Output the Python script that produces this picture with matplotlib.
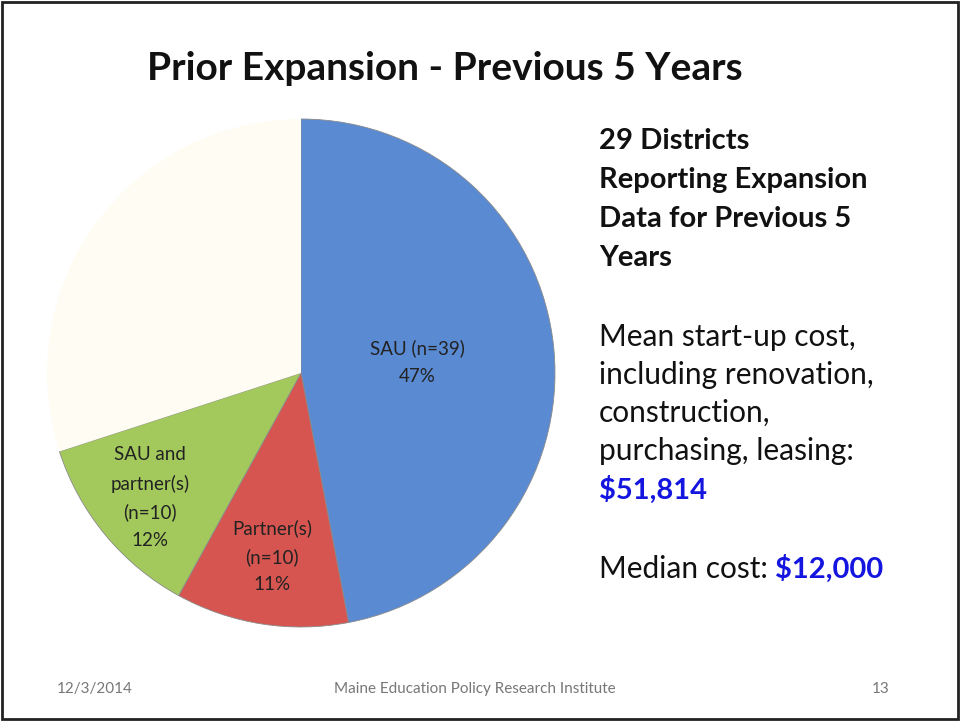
import matplotlib.pyplot as plt
import numpy as np

# slice data (the remaining share has no label on the slide)
categories = ['SAU (n=39)', 'Partner(s)\n(n=10)', 'SAU and\npartner(s)\n(n=10)', '']
shares = [47, 11, 12, 30]
colors = ['#5a8ad2', '#d65550', '#a3c95c', '#fffcf4']
label_dist = [0.46, 0.73, 0.77, 0]

plt.rcParams['font.family'] = ['Lato', 'DejaVu Sans']

fig = plt.figure(figsize=(9.6, 7.21), dpi=100)
fig.patch.set_facecolor('white')

# slide border
fig.add_artist(plt.Rectangle((0.002, 0.003), 0.996, 0.994, transform=fig.transFigure,
                             fill=False, edgecolor='#222222', linewidth=2))

ax = fig.add_axes([47 / 960, (721 - 627) / 721, 508 / 960, 508 / 721])
wedges, _ = ax.pie(shares, colors=colors, startangle=90, counterclock=False,
                   wedgeprops=dict(edgecolor='#8a8a8a', linewidth=0.6))
wedges[3].set_edgecolor('none')
ax.set_xlim(-1, 1)
ax.set_ylim(-1, 1)
ax.set_aspect('equal')
ax.axis('off')

for w, lab, pct, d in zip(wedges, categories, shares, label_dist):
    if not lab:
        continue
    ang = np.deg2rad((w.theta1 + w.theta2) / 2)
    ax.text(d * np.cos(ang), d * np.sin(ang), f'{lab}\n{pct}%', ha='center', va='center',
            fontsize=13.5, color='#222222', linespacing=1.75)

fig.text(445 / 960, 1 - 68 / 721, 'Prior Expansion - Previous 5 Years', ha='center', va='center',
         fontsize=28, fontweight='bold', color='#111111')

x0 = 599 / 960
bold_lines = ['29 Districts', 'Reporting Expansion', 'Data for Previous 5', 'Years']
for i, s in enumerate(bold_lines):
    fig.text(x0, 1 - (141 + 39 * i) / 721, s, ha='left', va='center',
             fontsize=21, fontweight='bold', color='#111111')

mean_lines = ['Mean start-up cost,', 'including renovation,', 'construction,',
              'purchasing, leasing:']
for i, s in enumerate(mean_lines):
    fig.text(x0, 1 - (337 + 38 * i) / 721, s, ha='left', va='center',
             fontsize=21.5, color='#111111')
fig.text(x0, 1 - 490 / 721, '$51,814', ha='left', va='center',
         fontsize=21, fontweight='bold', color='#1515e0')

t = fig.text(x0, 1 - 569 / 721, 'Median cost: ', ha='left', va='center',
             fontsize=21.5, color='#111111')
fig.canvas.draw()
bb = t.get_window_extent()
fig.text(bb.x1 / fig.bbox.width, 1 - 569 / 721, '$12,000', ha='left', va='center',
         fontsize=21, fontweight='bold', color='#1515e0')

fig.text(57 / 960, 1 - 689 / 721, '12/3/2014', ha='left', va='center', fontsize=11, color='#777777')
fig.text(475 / 960, 1 - 689 / 721, 'Maine Education Policy Research Institute', ha='center',
         va='center', fontsize=11, color='#777777')
fig.text(890 / 960, 1 - 689 / 721, '13', ha='right', va='center', fontsize=11, color='#777777')

fig.savefig('out.png', dpi=100)
